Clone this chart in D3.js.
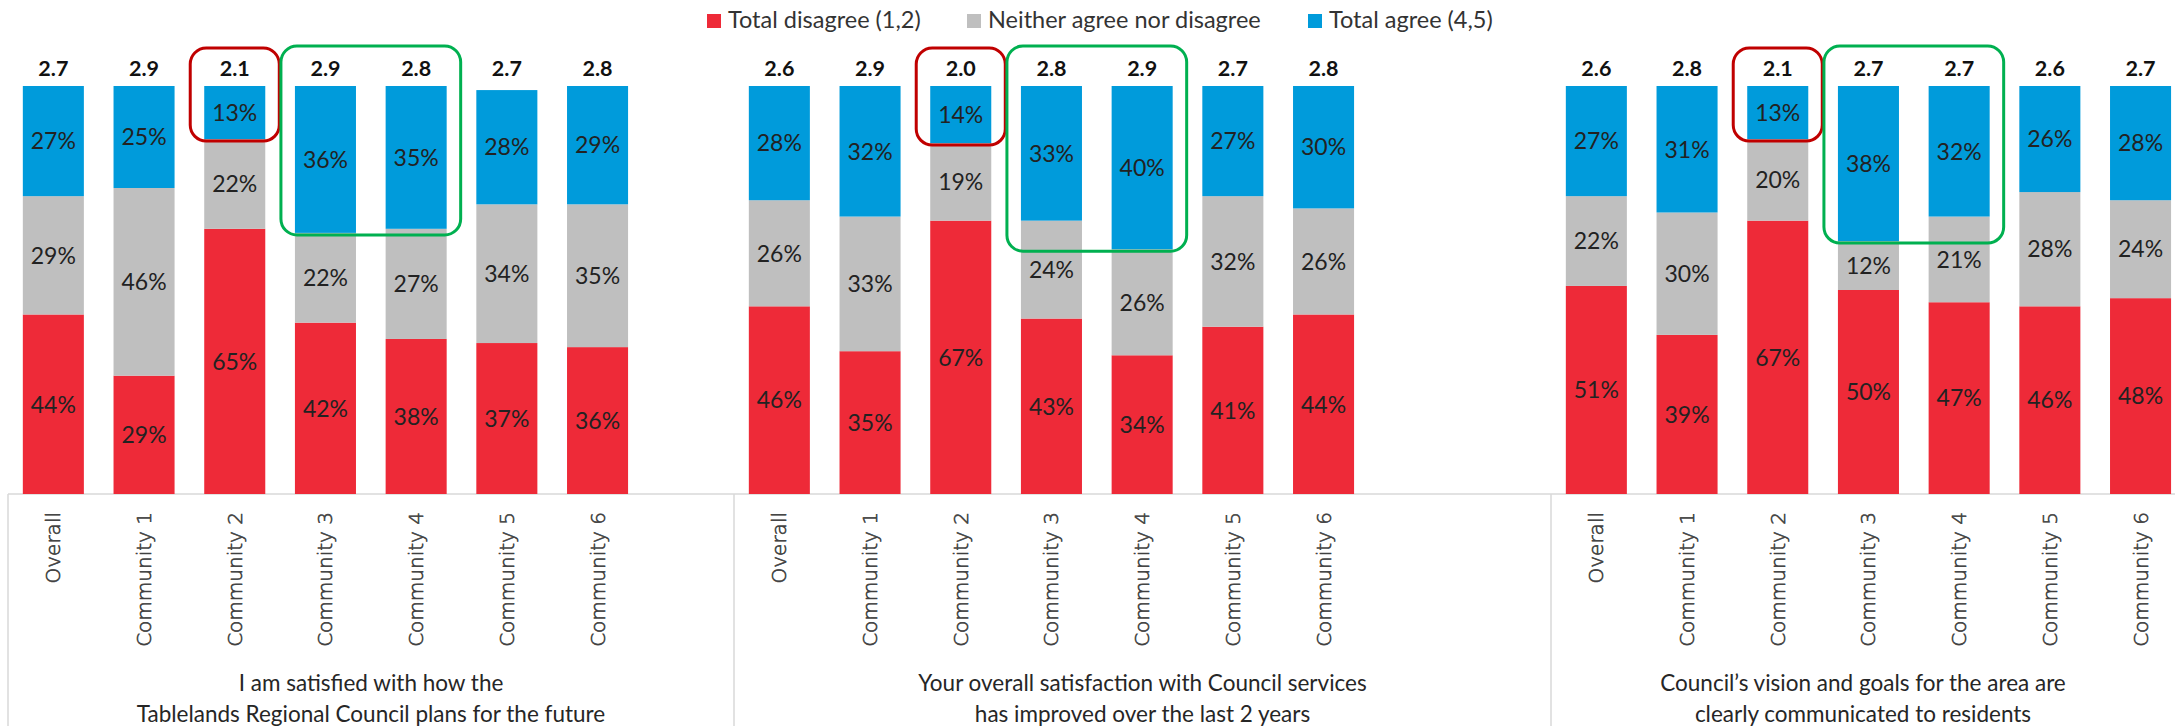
<!DOCTYPE html>
<html>
<head>
<meta charset="utf-8">
<script src="https://cdn.jsdelivr.net/npm/d3@7"></script>
<style>
  html, body { margin: 0; padding: 0; background: #ffffff; }
  svg { display: block; }
</style>
</head>
<body>
<svg id="chart" width="2175" height="726"></svg>
<script>
// Categories shared by all three statements
const categories = ["Overall", "Community 1", "Community 2", "Community 3", "Community 4", "Community 5", "Community 6"];

// Legend / series
const seriesKeys = ["disagree", "neither", "agree"];
const seriesNames = ["Total disagree (1,2)", "Neither agree nor disagree", "Total agree (4,5)"];
const seriesColors = ["#EE2A38", "#BFBFBF", "#009BDB"];

// Statement titles (two lines each)
const titles = [
  ["I am satisfied with how the", "Tablelands Regional Council plans for the future"],
  ["Your overall satisfaction with Council services", "has improved over the last 2 years"],
  ["Council\u2019s vision and goals for the area are", "clearly communicated to residents"]
];

// Statement 1: plans for the future (%)
const disagree1 = [44, 29, 65, 42, 38, 37, 36];
const neither1  = [29, 46, 22, 22, 27, 34, 35];
const agree1    = [27, 25, 13, 36, 35, 28, 29];
const mean1     = [2.7, 2.9, 2.1, 2.9, 2.8, 2.7, 2.8];

// Statement 2: satisfaction with services has improved (%)
const disagree2 = [46, 35, 67, 43, 34, 41, 44];
const neither2  = [26, 33, 19, 24, 26, 32, 26];
const agree2    = [28, 32, 14, 33, 40, 27, 30];
const mean2     = [2.6, 2.9, 2.0, 2.8, 2.9, 2.7, 2.8];

// Statement 3: vision and goals clearly communicated (%)
const disagree3 = [51, 39, 67, 50, 47, 46, 48];
const neither3  = [22, 30, 20, 12, 21, 28, 24];
const agree3    = [27, 31, 13, 38, 32, 26, 28];
const mean3     = [2.6, 2.8, 2.1, 2.7, 2.7, 2.6, 2.7];

// Callout groups: lowest-scoring and highest-agreeing communities
const lowGroup  = ["Community 2"];
const highGroup = ["Community 3", "Community 4"];

const panels = [
  { title: titles[0], disagree: disagree1, neither: neither1, agree: agree1, mean: mean1 },
  { title: titles[1], disagree: disagree2, neither: neither2, agree: agree2, mean: mean2 },
  { title: titles[2], disagree: disagree3, neither: neither3, agree: agree3, mean: mean3 }
];

// Layout
const W = 2175, H = 726;
const baseY = 494, topY = 86;
const panelEdges = [8, 734, 1551, 2175];
const step = 90.7;
const labelFont = "Lato, 'Open Sans', sans-serif";

const svg = d3.select("#chart");
const y = d3.scaleLinear().domain([0, 100]).range([baseY, topY]);
const stack = d3.stack().keys(seriesKeys);

// Legend
const legendX = [707, 967, 1308];
const legend = svg.append("g").attr("class", "legend");
seriesNames.forEach((name, i) => {
  const g = legend.append("g").attr("transform", `translate(${legendX[i]},0)`);
  g.append("rect").attr("x", 0).attr("y", 14).attr("width", 14).attr("height", 14).attr("fill", seriesColors[i]);
  g.append("text").attr("x", 21).attr("y", 28)
    .attr("font-family", labelFont).attr("font-size", 23.5).attr("fill", "#333")
    .text(name);
});

// Baseline spanning all panels
svg.append("line")
  .attr("x1", panelEdges[0]).attr("x2", W)
  .attr("y1", baseY).attr("y2", baseY)
  .attr("stroke", "#D9D9D9").attr("stroke-width", 1.5);

// Group separators
panelEdges.slice(0, 3).forEach(px => {
  svg.append("line")
    .attr("x1", px).attr("x2", px)
    .attr("y1", baseY).attr("y2", H)
    .attr("stroke", "#D9D9D9").attr("stroke-width", 1.5);
});

panels.forEach((p, pi) => {
  const x0 = panelEdges[pi];
  const x = d3.scaleBand()
    .domain(categories)
    .range([x0, x0 + categories.length * step])
    .paddingInner(0.327)
    .paddingOuter(0.1635);

  const rows = categories.map((c, i) => ({
    category: c, disagree: p.disagree[i], neither: p.neither[i], agree: p.agree[i], mean: p.mean[i]
  }));
  const series = stack(rows);

  const g = svg.append("g").attr("class", "panel");

  // Stacked bars
  const layers = g.selectAll("g.layer").data(series).join("g")
    .attr("class", "layer")
    .attr("fill", (d, i) => seriesColors[i]);
  layers.selectAll("rect").data(d => d).join("rect")
    .attr("x", d => x(d.data.category))
    .attr("width", x.bandwidth())
    .attr("y", d => y(d[1]))
    .attr("height", d => y(d[0]) - y(d[1]));

  // Segment value labels
  series.forEach(s => {
    g.append("g").selectAll("text").data(s).join("text")
      .attr("x", d => x(d.data.category) + x.bandwidth() / 2)
      .attr("y", d => (y(d[0]) + y(d[1])) / 2)
      .attr("dy", "0.36em")
      .attr("text-anchor", "middle")
      .attr("font-family", labelFont).attr("font-size", 23).attr("fill", "#222")
      .text(d => (d[1] - d[0]) + "%");
  });

  // Mean scores above each bar
  g.append("g").selectAll("text").data(rows).join("text")
    .attr("x", d => x(d.category) + x.bandwidth() / 2)
    .attr("y", 76)
    .attr("text-anchor", "middle")
    .attr("font-family", labelFont).attr("font-size", 21.5).attr("font-weight", 700).attr("fill", "#111")
    .text(d => d.mean.toFixed(1));

  // Category axis with vertical labels
  const axis = g.append("g")
    .attr("transform", `translate(0,${baseY})`)
    .call(d3.axisBottom(x).tickSize(0));
  axis.select(".domain").remove();
  axis.selectAll(".tick text")
    .attr("transform", "rotate(-90)")
    .attr("text-anchor", "end")
    .attr("x", -18)
    .attr("y", 0)
    .attr("dy", "0.35em")
    .attr("font-family", "'DejaVu Sans', sans-serif")
    .attr("font-weight", 200)
    .attr("font-size", 20)
    .attr("fill", "#404040")
    .attr("stroke", "#404040")
    .attr("stroke-width", 0.6);

  // Statement title centred under its group
  const cx = (panelEdges[pi] + panelEdges[pi + 1]) / 2;
  p.title.forEach((line, li) => {
    g.append("text")
      .attr("x", cx).attr("y", 691 + li * 31)
      .attr("text-anchor", "middle")
      .attr("font-family", labelFont).attr("font-size", 22.5).attr("fill", "#262626")
      .text(line);
  });

  // Callout boxes around the agree segments of highlighted communities
  const pad = 14;
  const callout = (group, color, top) => {
    const left = d3.min(group, c => x(c)) - pad;
    const right = d3.max(group, c => x(c) + x.bandwidth()) + pad;
    const idx = group.map(c => categories.indexOf(c));
    const bottom = d3.max(idx, i => y(100 - p.agree[i])) + 2;
    g.append("rect")
      .attr("x", left).attr("y", top)
      .attr("width", right - left).attr("height", bottom - top)
      .attr("rx", 16).attr("ry", 16)
      .attr("fill", "none").attr("stroke", color).attr("stroke-width", 3);
  };
  callout(lowGroup, "#C00000", 48);
  callout(highGroup, "#00B050", 46);
});
</script>
</body>
</html>
